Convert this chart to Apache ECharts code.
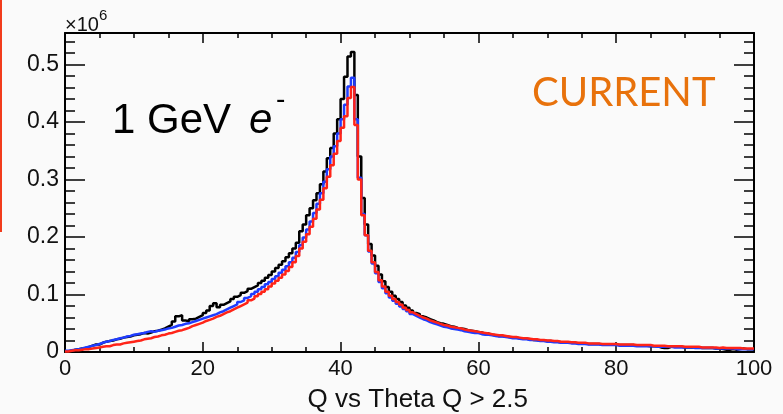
<!DOCTYPE html>
<html>
<head>
<meta charset="utf-8">
<script src="https://cdn.jsdelivr.net/npm/echarts@6/dist/echarts.min.js"></script>
<style>
html,body{margin:0;padding:0;background:#fafafa;}
#chart{width:783px;height:414px;}
</style>
</head>
<body>
<div id="chart"></div>
<script>
// Histogram: 200 bins of width 0.5 over [0, 100]; values in units of 10^6
const X_MIN = 0, X_MAX = 100, BIN_WIDTH = 0.5;
const xTicks = [0, 20, 40, 60, 80, 100];
const yTicks = [0, 0.1, 0.2, 0.3, 0.4, 0.5];

const blackCounts = [
  0.001,0.002,0.004,0.005,0.006,0.007,0.009,0.011,0.013,0.013,
  0.016,0.018,0.019,0.020,0.022,0.023,0.025,0.026,0.027,0.029,
  0.030,0.031,0.033,0.032,0.034,0.036,0.037,0.039,0.041,0.044,
  0.047,0.053,0.062,0.064,0.055,0.053,0.057,0.058,0.061,0.064,
  0.068,0.072,0.080,0.085,0.078,0.082,0.085,0.088,0.092,0.096,
  0.099,0.103,0.106,0.110,0.113,0.116,0.120,0.124,0.129,0.134,
  0.140,0.146,0.152,0.158,0.165,0.172,0.180,0.190,0.210,0.222,
  0.238,0.250,0.264,0.276,0.292,0.314,0.337,0.355,0.380,0.405,
  0.440,0.479,0.514,0.522,0.447,0.340,0.268,0.222,0.188,0.168,
  0.150,0.135,0.123,0.113,0.105,0.098,0.092,0.087,0.081,0.077,
  0.072,0.068,0.066,0.062,0.060,0.057,0.055,0.052,0.050,0.049,
  0.047,0.045,0.044,0.042,0.041,0.040,0.038,0.037,0.036,0.035,
  0.034,0.032,0.032,0.030,0.029,0.028,0.028,0.027,0.026,0.025,
  0.025,0.024,0.023,0.023,0.022,0.021,0.021,0.020,0.020,0.019,
  0.019,0.018,0.018,0.017,0.017,0.017,0.016,0.016,0.015,0.015,
  0.015,0.014,0.014,0.014,0.014,0.013,0.013,0.013,0.013,0.013,
  0.012,0.012,0.012,0.012,0.012,0.011,0.011,0.011,0.011,0.010,
  0.010,0.010,0.008,0.007,0.007,0.009,0.009,0.009,0.009,0.008,
  0.008,0.008,0.008,0.008,0.007,0.007,0.007,0.007,0.006,0.006,
  0.005,0.004,0.004,0.005,0.004,0.005,0.006,0.005,0.005,0.005
];

const blueCounts = [
  0.002,0.003,0.004,0.005,0.006,0.008,0.009,0.011,0.012,0.014,
  0.016,0.018,0.019,0.021,0.022,0.024,0.025,0.027,0.028,0.030,
  0.031,0.032,0.033,0.035,0.036,0.035,0.037,0.038,0.039,0.041,
  0.042,0.044,0.046,0.047,0.049,0.050,0.052,0.054,0.056,0.058,
  0.060,0.062,0.064,0.066,0.069,0.071,0.074,0.077,0.080,0.083,
  0.087,0.090,0.094,0.097,0.101,0.105,0.109,0.113,0.118,0.122,
  0.127,0.132,0.138,0.143,0.149,0.156,0.164,0.174,0.186,0.199,
  0.213,0.227,0.242,0.258,0.276,0.296,0.318,0.340,0.358,0.380,
  0.405,0.430,0.462,0.477,0.405,0.303,0.240,0.203,0.175,0.154,
  0.137,0.122,0.111,0.102,0.095,0.089,0.084,0.079,0.075,0.071,
  0.066,0.063,0.060,0.057,0.055,0.052,0.050,0.048,0.046,0.044,
  0.043,0.041,0.040,0.039,0.038,0.036,0.035,0.034,0.033,0.033,
  0.031,0.030,0.030,0.029,0.028,0.027,0.027,0.026,0.025,0.024,
  0.024,0.023,0.022,0.022,0.021,0.021,0.020,0.019,0.019,0.018,
  0.018,0.017,0.017,0.016,0.016,0.016,0.015,0.015,0.014,0.014,
  0.014,0.013,0.013,0.013,0.013,0.012,0.012,0.012,0.012,0.012,
  0.011,0.011,0.011,0.011,0.011,0.010,0.010,0.010,0.010,0.010,
  0.010,0.009,0.009,0.009,0.009,0.009,0.008,0.008,0.008,0.008,
  0.008,0.008,0.007,0.007,0.007,0.007,0.007,0.007,0.006,0.006,
  0.006,0.006,0.006,0.006,0.005,0.005,0.005,0.005,0.005,0.005
];

const redCounts = [
  0.001,0.002,0.003,0.003,0.004,0.005,0.005,0.006,0.007,0.008,
  0.009,0.010,0.010,0.012,0.013,0.013,0.015,0.016,0.017,0.018,
  0.019,0.020,0.022,0.023,0.024,0.026,0.027,0.029,0.030,0.032,
  0.033,0.035,0.037,0.038,0.040,0.042,0.045,0.047,0.049,0.051,
  0.054,0.056,0.058,0.061,0.063,0.066,0.069,0.071,0.074,0.077,
  0.080,0.083,0.086,0.090,0.093,0.097,0.101,0.105,0.109,0.114,
  0.119,0.124,0.129,0.135,0.141,0.148,0.156,0.167,0.180,0.192,
  0.205,0.218,0.232,0.248,0.265,0.285,0.305,0.325,0.345,0.367,
  0.390,0.410,0.442,0.461,0.395,0.300,0.238,0.203,0.176,0.156,
  0.139,0.125,0.114,0.105,0.098,0.092,0.087,0.082,0.077,0.073,
  0.069,0.066,0.063,0.060,0.058,0.055,0.053,0.051,0.049,0.047,
  0.046,0.044,0.043,0.042,0.041,0.039,0.038,0.037,0.036,0.035,
  0.034,0.033,0.032,0.031,0.030,0.029,0.029,0.028,0.027,0.026,
  0.026,0.025,0.024,0.024,0.023,0.022,0.022,0.021,0.021,0.020,
  0.020,0.019,0.019,0.018,0.018,0.018,0.017,0.017,0.016,0.016,
  0.016,0.015,0.015,0.015,0.015,0.014,0.014,0.014,0.014,0.014,
  0.013,0.013,0.013,0.013,0.013,0.012,0.012,0.012,0.012,0.012,
  0.011,0.011,0.011,0.011,0.010,0.010,0.010,0.010,0.010,0.009,
  0.009,0.009,0.009,0.009,0.008,0.008,0.008,0.008,0.008,0.007,
  0.008,0.007,0.007,0.007,0.007,0.007,0.006,0.006,0.006,0.006
];

const Y_MAX = 0.555;
const xTitle = 'Q vs Theta Q > 2.5';

function histPoints(counts) {
  const pts = counts.map((c, i) => [X_MIN + i * BIN_WIDTH, c]);
  pts.push([X_MIN + counts.length * BIN_WIDTH, counts[counts.length - 1]]);
  return pts;
}

const FONT = 'Liberation Sans, Arial, sans-serif';
const chart = echarts.init(document.getElementById('chart'), null, {renderer: 'canvas'});

const frameLine = {show: true, onZero: false, lineStyle: {color: '#000', width: 2}};
const xMajorTick = {show: true, inside: true, length: 10, lineStyle: {color: '#000', width: 1.5}};
const xMinorTick = {show: true, splitNumber: 4, length: 5, lineStyle: {color: '#000', width: 1.5}};

chart.setOption({
  backgroundColor: '#fafafa',
  animation: false,
  grid: {left: 65, right: 29, top: 33, bottom: 62, containLabel: false},
  xAxis: [
    {
      type: 'value', position: 'bottom', min: X_MIN, max: X_MAX, interval: 20,
      axisLine: frameLine, axisTick: xMajorTick, minorTick: xMinorTick,
      splitLine: {show: false},
      axisLabel: {show: true, margin: 6, fontSize: 22, color: '#111', fontFamily: FONT,
                  formatter: v => xTicks.includes(v) ? String(v) : ''}
    },
    {
      type: 'value', position: 'top', min: X_MIN, max: X_MAX, interval: 20,
      axisLine: frameLine, axisTick: xMajorTick, minorTick: xMinorTick,
      splitLine: {show: false}, axisLabel: {show: false}
    }
  ],
  yAxis: [
    {
      type: 'value', position: 'left', min: 0, max: Y_MAX, interval: 0.1,
      axisLine: frameLine,
      axisTick: {show: true, inside: true, length: 20, lineStyle: {color: '#000', width: 1.5}},
      splitLine: {show: false},
      axisLabel: {show: true, margin: 6, fontSize: 23, color: '#111', fontFamily: FONT, showMaxLabel: false,
                  formatter: v => {
                    const t = yTicks.find(k => Math.abs(k - v) < 1e-9);
                    return t === undefined ? '' : (t === 0 ? '0' : t.toFixed(1));
                  }}
    },
    {
      type: 'value', position: 'right', min: 0, max: Y_MAX, interval: 0.1,
      axisLine: frameLine,
      axisTick: {show: true, inside: true, length: 20, lineStyle: {color: '#000', width: 1.5}},
      splitLine: {show: false}, axisLabel: {show: false}
    },
    {
      type: 'value', position: 'left', min: 0, max: Y_MAX, interval: 0.02,
      axisLine: {show: false, onZero: false},
      axisTick: {show: true, inside: true, length: 10, lineStyle: {color: '#000', width: 1.5}},
      splitLine: {show: false}, axisLabel: {show: false}
    },
    {
      type: 'value', position: 'right', min: 0, max: Y_MAX, interval: 0.02,
      axisLine: {show: false, onZero: false},
      axisTick: {show: true, inside: true, length: 10, lineStyle: {color: '#000', width: 1.5}},
      splitLine: {show: false}, axisLabel: {show: false}
    }
  ],
  series: [
    {name: 'black', type: 'line', step: 'end', data: histPoints(blackCounts), showSymbol: false,
     lineStyle: {color: '#000000', width: 2.5}, z: 3},
    {name: 'blue', type: 'line', step: 'end', data: histPoints(blueCounts), showSymbol: false,
     lineStyle: {color: '#1f3cff', width: 2.5}, z: 4},
    {name: 'red', type: 'line', step: 'end', data: histPoints(redCounts), showSymbol: false,
     lineStyle: {color: '#ff2418', width: 2.5}, z: 5}
  ],
  graphic: [
    {type: 'rect', shape: {x: 0, y: 0, width: 2, height: 232}, style: {fill: '#f23c1c'}, z: 10},
    {type: 'text', x: 65, y: 25, style: {text: '×10', font: '20px ' + FONT, fill: '#111', textAlign: 'left', textVerticalAlign: 'middle'}},
    {type: 'text', x: 99, y: 16, style: {text: '6', font: '15px ' + FONT, fill: '#111', textAlign: 'left', textVerticalAlign: 'middle'}},
    {type: 'text', x: 112, y: 121, style: {text: '1 GeV', font: '42px ' + FONT, fill: '#000', textAlign: 'left', textVerticalAlign: 'middle'}},
    {type: 'text', x: 249, y: 121, style: {text: 'e', font: 'italic 42px ' + FONT, fill: '#000', textAlign: 'left', textVerticalAlign: 'middle'}},
    {type: 'text', x: 276, y: 100, style: {text: '-', font: '28px ' + FONT, fill: '#000', textAlign: 'left', textVerticalAlign: 'middle'}},
    {type: 'text', x: 532, y: 93, style: {text: 'CURRENT', font: '40px Lato, "Open Sans", sans-serif', fill: '#e8720c', textAlign: 'left', textVerticalAlign: 'middle'}},
    {type: 'text', x: 528, y: 400, style: {text: xTitle, font: '26px ' + FONT, fill: '#111', textAlign: 'right', textVerticalAlign: 'middle'}}
  ]
});
</script>
</body>
</html>
